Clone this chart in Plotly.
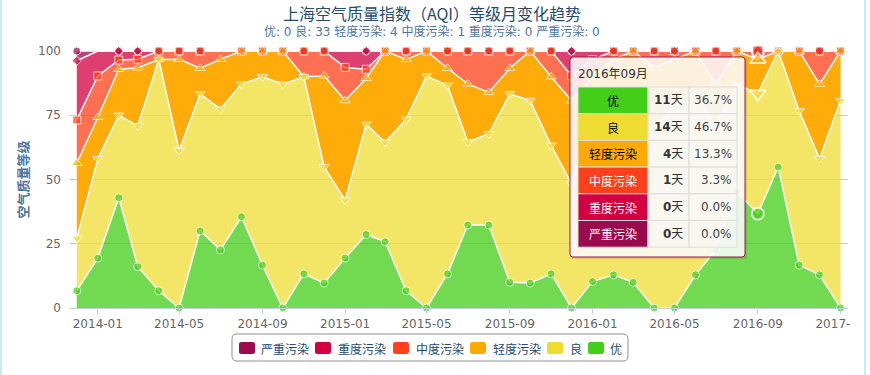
import numpy as np
import plotly.graph_objects as go

# ---------------- data ----------------
months = ["2013-12",
          "2014-01", "2014-02", "2014-03", "2014-04", "2014-05", "2014-06",
          "2014-07", "2014-08", "2014-09", "2014-10", "2014-11", "2014-12",
          "2015-01", "2015-02", "2015-03", "2015-04", "2015-05", "2015-06",
          "2015-07", "2015-08", "2015-09", "2015-10", "2015-11", "2015-12",
          "2016-01", "2016-02", "2016-03", "2016-04", "2016-05", "2016-06",
          "2016-07", "2016-08", "2016-09", "2016-10", "2016-11", "2016-12",
          "2017-01"]

tick_vals = ["2014-01", "2014-05", "2014-09", "2015-01", "2015-05", "2015-09",
             "2016-01", "2016-05", "2016-09", "2017-01"]
tick_text = ["2014-01", "2014-05", "2014-09", "2015-01", "2015-05", "2015-09",
             "2016-01", "2016-05", "2016-09", "2017-01"]

series_names = ["优", "良", "轻度污染", "中度污染", "重度污染", "严重污染"]

you = [6.7, 19.4, 42.9, 16.1, 6.7, 0, 30.0, 22.6, 35.5, 16.7, 0, 13.3, 9.7,
       19.4, 28.6, 25.8, 6.7, 0, 13.3, 32.3, 32.3, 10.0, 9.7, 13.3, 0,
       10.3, 12.9, 10.0, 0, 0, 12.9, 22.6, 45.2, 36.7, 54.8, 16.7, 12.9, 0]
liang = [20.4, 38.7, 32.1, 54.8, 90.0, 61.3, 53.3, 54.8, 51.6, 73.3, 87.1, 76.7, 45.2,
         22.6, 42.9, 38.7, 66.7, 90.3, 73.3, 32.3, 35.5, 73.3, 71.0, 50.0, 48.4,
         64.7, 58.1, 70.0, 67.7, 80.0, 71.0, 48.4, 41.9, 46.7, 45.2, 60.0, 45.2, 80.6]
qingdu = [29.2, 16.1, 17.9, 22.6, 0, 35.5, 10.0, 19.4, 12.9, 10.0, 12.9, 0, 35.5,
          38.7, 17.9, 35.5, 23.3, 9.7, 6.7, 22.6, 16.1, 10.0, 19.3, 26.7, 32.3,
          14.7, 25.8, 20.0, 25.8, 16.7, 16.1, 16.1, 12.9, 13.3, 0, 23.3, 29.0, 19.4]
zhongdu = [16.9, 16.1, 3.6, 3.3, 3.3, 3.2, 6.7, 3.2, 0, 0, 0, 10.0, 9.6,
           12.9, 3.5, 0, 3.3, 0, 6.7, 12.8, 16.1, 6.7, 0, 10.0, 9.7,
           6.9, 3.2, 0, 6.5, 3.3, 0, 12.9, 0, 3.3, 0, 0, 12.9, 0]
zhongdu_heavy = [23.0, 9.7, 3.5, 3.2, 0, 0, 0, 0, 0, 0, 0, 0, 0,
                 6.4, 7.1, 0, 0, 0, 0, 0, 0, 0, 0, 0, 9.6,
                 3.4, 0, 0, 0, 0, 0, 0, 0, 0, 0, 0, 0, 0]
yanzhong = [3.8, 0, 0, 0, 0, 0, 0, 0, 0, 0, 0, 0, 0,
            0, 0, 0, 0, 0, 0, 0, 0, 0, 0, 0, 0,
            0, 0, 0, 0, 0, 0, 0, 0, 0, 0, 0, 0, 0]

subtitle_counts = [0, 33, 4, 1, 0, 0]

tip_month = "2016-09"
tip_title = "2016年09月"
tip_days = [11, 14, 4, 1, 0, 0]
tip_pct = ["36.7%", "46.7%", "13.3%", "3.3%", "0.0%", "0.0%"]

# ---------------- styles ----------------
series_colors = ["#43CE17", "#EFDC31", "#FFAA00", "#FF401A", "#D20040", "#9C0A4E"]
fill_colors = ["rgba(67,206,23,0.75)", "rgba(239,220,49,0.75)", "rgba(255,168,0,0.96)",
               "rgba(255,64,26,0.75)", "rgba(210,0,64,0.75)", "rgba(156,10,78,0.75)"]
symbols = ["circle", "triangle-down", "triangle-up", "square", "diamond", "circle"]
base_sizes = [8, 9, 9, 8, 7, 8]
hover_sizes = [12, 14, 14, 11, 10, 12]
label_colors = ["#000000", "#000000", "#000000", "#FFFFFF", "#FFFFFF", "#FFFFFF"]

FONT = "DejaVu Sans, Noto Sans CJK SC, sans-serif"
CJK = "Noto Sans CJK SC, DejaVu Sans, sans-serif"

W, H = 870, 375
L, R, T, B = 70, 848, 51, 308


def X(px):
    return (px - L) / (R - L)


def Y(py):
    return (B - py) / (B - T)


def rrect_path(x0, y0, x1, y1, r):
    pts = [("M", x0 + r, y0), ("L", x1 - r, y0), ("Q", x1, y0, x1, y0 + r),
           ("L", x1, y1 - r), ("Q", x1, y1, x1 - r, y1), ("L", x0 + r, y1),
           ("Q", x0, y1, x0, y1 - r), ("L", x0, y0 + r), ("Q", x0, y0, x0 + r, y0)]
    s = ""
    for p in pts:
        if p[0] == "Q":
            s += "Q%.5f,%.5f %.5f,%.5f " % (X(p[1]), Y(p[2]), X(p[3]), Y(p[4]))
        else:
            s += "%s%.5f,%.5f " % (p[0], X(p[1]), Y(p[2]))
    return s + "Z"


series_values = [you, liang, qingdu, zhongdu, zhongdu_heavy, yanzhong]
hover_idx = months.index(tip_month)

fig = go.Figure()

# stacked areas (bottom to top)
for name, vals, fc in zip(series_names, series_values, fill_colors):
    fig.add_trace(go.Scatter(
        x=months, y=vals, name=name, stackgroup="aqi", mode="lines",
        line=dict(color="white", width=1.5), fillcolor=fc,
        showlegend=False, hoverinfo="skip"))

# markers drawn from top series to bottom series so that lower series sit on top
cum = np.cumsum(np.array(series_values, dtype=float), axis=0)
for k in reversed(range(len(series_names))):
    sizes = [base_sizes[k]] * len(months)
    sizes[hover_idx] = hover_sizes[k]
    lw = [1] * len(months)
    lw[hover_idx] = 2
    fig.add_trace(go.Scatter(
        x=months, y=cum[k], mode="markers", name=series_names[k],
        marker=dict(symbol=symbols[k], size=sizes, color=series_colors[k],
                    line=dict(color="white", width=lw)),
        cliponaxis=False, showlegend=False, hoverinfo="skip"))

shapes = []
annotations = []

# ---- tooltip ----
tx0, tx1, ty0, ty1 = 570, 745, 57, 257
shapes.append(dict(type="rect", xref="paper", yref="paper", layer="above",
                   x0=X(tx0 + 2), x1=X(tx1 + 2), y0=Y(ty0 + 2), y1=Y(ty1 + 2),
                   fillcolor="rgba(0,0,0,0.10)", line=dict(width=0)))
shapes.append(dict(type="path", xref="paper", yref="paper", layer="above",
                   path=rrect_path(tx0, ty0, tx1, ty1, 3),
                   fillcolor="rgba(255,255,255,0.86)", line=dict(color="#A3154D", width=1)))
annotations.append(dict(xref="paper", yref="paper", x=X(576), y=Y(74), xanchor="left",
                        yanchor="middle", showarrow=False, text=tip_title,
                        font=dict(family=FONT, size=12, color="#333333")))
cols = [578, 648, 689, 737]
row_top, row_h = 87, 26.7
for i, nm in enumerate(series_names):
    y0 = row_top + i * row_h
    y1 = y0 + row_h
    ym = (y0 + y1) / 2
    shapes.append(dict(type="rect", xref="paper", yref="paper", layer="above",
                       x0=X(cols[0]), x1=X(cols[1]), y0=Y(y0), y1=Y(y1),
                       fillcolor=series_colors[i], line=dict(color="#DDDDDD", width=1)))
    for c in (1, 2):
        shapes.append(dict(type="rect", xref="paper", yref="paper", layer="above",
                           x0=X(cols[c]), x1=X(cols[c + 1]), y0=Y(y0), y1=Y(y1),
                           fillcolor="rgba(246,246,246,0.55)", line=dict(color="#DDDDDD", width=1)))
    annotations.append(dict(xref="paper", yref="paper", x=X((cols[0] + cols[1]) / 2), y=Y(ym),
                            xanchor="center", yanchor="middle", showarrow=False, text=nm,
                            font=dict(family=CJK, size=12, color=label_colors[i])))
    annotations.append(dict(xref="paper", yref="paper", x=X(cols[2] - 4), y=Y(ym),
                            xanchor="right", yanchor="middle", showarrow=False,
                            text="<b>%d</b>天" % tip_days[i],
                            font=dict(family=FONT, size=12, color="#333333")))
    annotations.append(dict(xref="paper", yref="paper", x=X(cols[3] - 3), y=Y(ym),
                            xanchor="right", yanchor="middle", showarrow=False,
                            text=tip_pct[i],
                            font=dict(family=FONT, size=12, color="#444444")))

# ---- custom legend ----
shapes.append(dict(type="path", xref="paper", yref="paper", layer="above",
                   path=rrect_path(232, 334, 628, 361, 5),
                   fillcolor="rgba(255,255,255,0)", line=dict(color="#909090", width=1)))
leg_sym_x = [247, 323, 401, 478, 555, 596]
leg_txt_x = [259, 336, 414, 491, 568, 608]
for j, k in enumerate(reversed(range(len(series_names)))):
    cx = leg_sym_x[j]
    shapes.append(dict(type="path", xref="paper", yref="paper", layer="above",
                       path=rrect_path(cx - 8, 342, cx + 8, 354, 2.5),
                       fillcolor=series_colors[k], line=dict(width=0)))
    annotations.append(dict(xref="paper", yref="paper", x=X(leg_txt_x[j]), y=Y(348),
                            xanchor="left", yanchor="middle", showarrow=False,
                            text=series_names[k],
                            font=dict(family=CJK, size=12, color="#274b6d")))

# ---- subtitle ----
sub = " ".join("%s: %d" % (n, c) for n, c in zip(series_names, subtitle_counts))
annotations.append(dict(xref="paper", yref="paper", x=X(432), y=Y(31),
                        xanchor="center", yanchor="middle", showarrow=False, text=sub,
                        font=dict(family=FONT, size=12, color="#4d759e")))

# ---- container edge: last tick label is clipped as in the original ----
shapes.append(dict(type="rect", xref="paper", yref="paper", layer="above",
                   x0=X(851), x1=X(875), y0=Y(311), y1=Y(330),
                   fillcolor="white", line=dict(width=0)))
for bx in (1, 865):
    shapes.append(dict(type="line", xref="paper", yref="paper", layer="above",
                       x0=X(bx), x1=X(bx), y0=Y(0), y1=Y(375),
                       line=dict(color="#B9E2EE", width=1.5)))

fig.update_layout(
    template="none",
    width=W, height=H,
    margin=dict(l=L, r=W - R, t=T, b=H - B, pad=0),
    paper_bgcolor="white", plot_bgcolor="white",
    font=dict(family=FONT, size=12, color="#666666"),
    title=dict(text="上海空气质量指数（AQI）等级月变化趋势", x=432 / W, xref="container",
               y=1 - 14 / H, yref="container", xanchor="center", yanchor="middle",
               font=dict(family=CJK, size=16, color="#274b6d")),
    showlegend=False,
    shapes=shapes,
    annotations=annotations,
    xaxis=dict(type="date", range=["2013-11-21", "2017-01-12"],
               tickmode="array", tickvals=tick_vals, ticktext=tick_text,
               showgrid=False, zeroline=False, showline=True, linecolor="#C0D0E0",
               linewidth=1, ticks="outside", ticklen=5, tickcolor="#C0D0E0",
               tickfont=dict(family=FONT, size=12, color="#666666")),
    yaxis=dict(range=[0, 100], tickvals=[0, 25, 50, 75, 100], showgrid=True,
               gridcolor="#C8C8C8", gridwidth=1, zeroline=False, showline=False,
               ticks="", ticklabelstandoff=8,
               tickfont=dict(family=FONT, size=12, color="#666666"),
               title=dict(text="<b>空气质量等级</b>", standoff=6,
                          font=dict(family=CJK, size=13, color="#4d759e"))),
)

fig.write_html("out.html", config={"displayModeBar": False},
               post_script="document.body.style.margin='0px';document.body.style.overflow='hidden';")
